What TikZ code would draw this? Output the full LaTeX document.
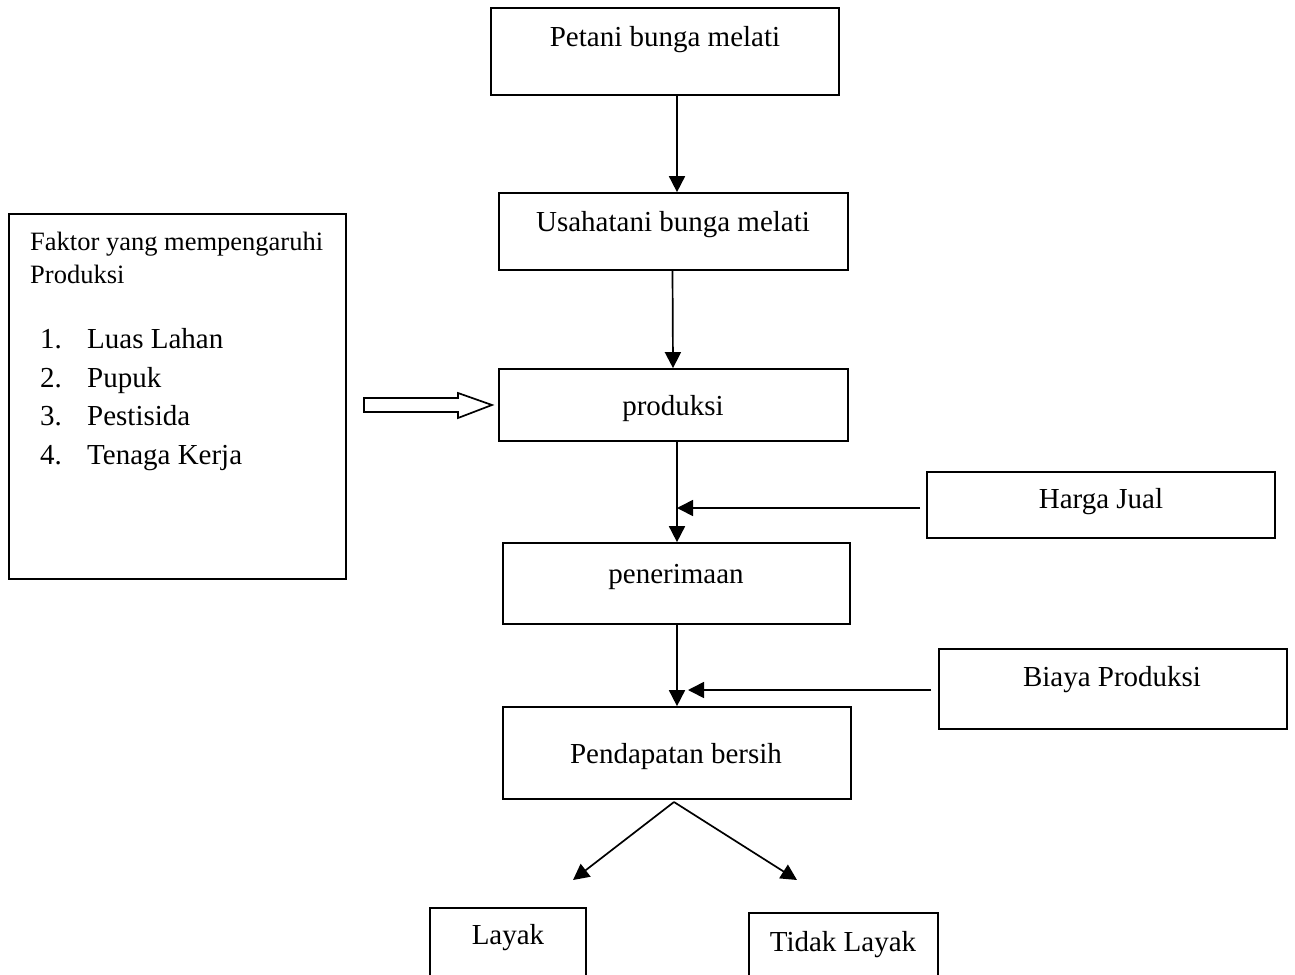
\documentclass[tikz,border=0pt]{standalone}
\usepackage{fontspec}
\setmainfont{Liberation Serif}
\usetikzlibrary{arrows.meta}
\begin{document}
\begin{tikzpicture}[x=1pt,y=-1pt,
  box/.style={draw, line width=1.7pt, inner sep=0pt},
  txt/.style={font=\fontsize{29}{35}\selectfont, inner sep=0pt, anchor=base},
  small/.style={font=\fontsize{26.5}{33}\selectfont, inner sep=0pt, anchor=base west},
  item/.style={font=\fontsize{29}{35}\selectfont, inner sep=0pt, anchor=base west},
  arr/.style={line width=1.7pt, -{Triangle[length=16pt,width=16pt]}},
  hollow/.style={draw, line width=1.7pt, line join=miter, fill=white}]
\useasboundingbox (0,0) rectangle (1295,974);
% boxes
\node[box, minimum width=348pt, minimum height=87pt] (petani) at (665,51.5) {};
\node[txt] (petani-t) at (665,47) {Petani bunga melati};
\node[box, minimum width=349pt, minimum height=77pt] (usaha) at (673.5,231.5) {};
\node[txt] (usaha-t) at (673,231) {Usahatani bunga melati};
\node[box, minimum width=349pt, minimum height=72pt] (prod) at (673.5,405) {};
\node[txt] (prod-t) at (673,415) {produksi};
\node[box, minimum width=337pt, minimum height=365pt] (faktor) at (177.5,396.5) {};
\node[small] (f1) at (30,250) {Faktor yang mempengaruhi};
\node[small] (f2) at (30,283) {Produksi};
\node[item] (n1) at (40,348) {1.};
\node[item] (l1) at (87,348) {Luas Lahan};
\node[item] (n2) at (40,387) {2.};
\node[item] (l2) at (87,387) {Pupuk};
\node[item] (n3) at (40,425) {3.};
\node[item] (l3) at (87,425) {Pestisida};
\node[item] (n4) at (40,464) {4.};
\node[item] (l4) at (87,464) {Tenaga Kerja};
\node[box, minimum width=348pt, minimum height=66pt] (harga) at (1101,505) {};
\node[txt] (harga-t) at (1101,508) {Harga Jual};
\node[box, minimum width=347pt, minimum height=81pt] (terima) at (676.5,583.5) {};
\node[txt] (terima-t) at (676,583) {penerimaan};
\node[box, minimum width=348pt, minimum height=80pt] (biaya) at (1113,689) {};
\node[txt] (biaya-t) at (1112,686) {Biaya Produksi};
\node[box, minimum width=348pt, minimum height=92pt] (pend) at (677,753) {};
\node[txt] (pend-t) at (676,763) {Pendapatan bersih};
\node[box, minimum width=156pt, minimum height=100pt] (layak) at (508,958) {};
\node[txt] (layak-t) at (508,944) {Layak};
\node[box, minimum width=189pt, minimum height=100pt] (tidak) at (843.5,963) {};
\node[txt] (tidak-t) at (843,951) {Tidak Layak};
% connectors
\draw[arr] ([xshift=12pt]petani.south) -- ([xshift=3.5pt]usaha.north);
\draw[arr] ([xshift=-1pt]usaha.south) -- ([xshift=-0.5pt]prod.north);
\draw[arr] ([xshift=3.5pt]prod.south) -- ([xshift=0.5pt]terima.north);
\draw[arr] ([xshift=-6pt,yshift=-3pt]harga.west) -- (677,508);
\draw[arr] ([xshift=0.5pt]terima.south) -- (pend.north);
\draw[arr] ([xshift=-7pt,yshift=-1pt]biaya.west) -- (688,690);
\coordinate (apex) at (674,802);
\coordinate (tipL) at (573,880);
\coordinate (tipR) at (797,880);
\draw[arr] (apex) -- (tipL);
\draw[arr] (apex) -- (tipR);
% hollow arrow from faktor to produksi
\draw[hollow] (364,398) -- (458,398) -- (458,393) -- (492,405) -- (458,418) -- (458,412) -- (364,412) -- cycle;
\end{tikzpicture}
\end{document}
